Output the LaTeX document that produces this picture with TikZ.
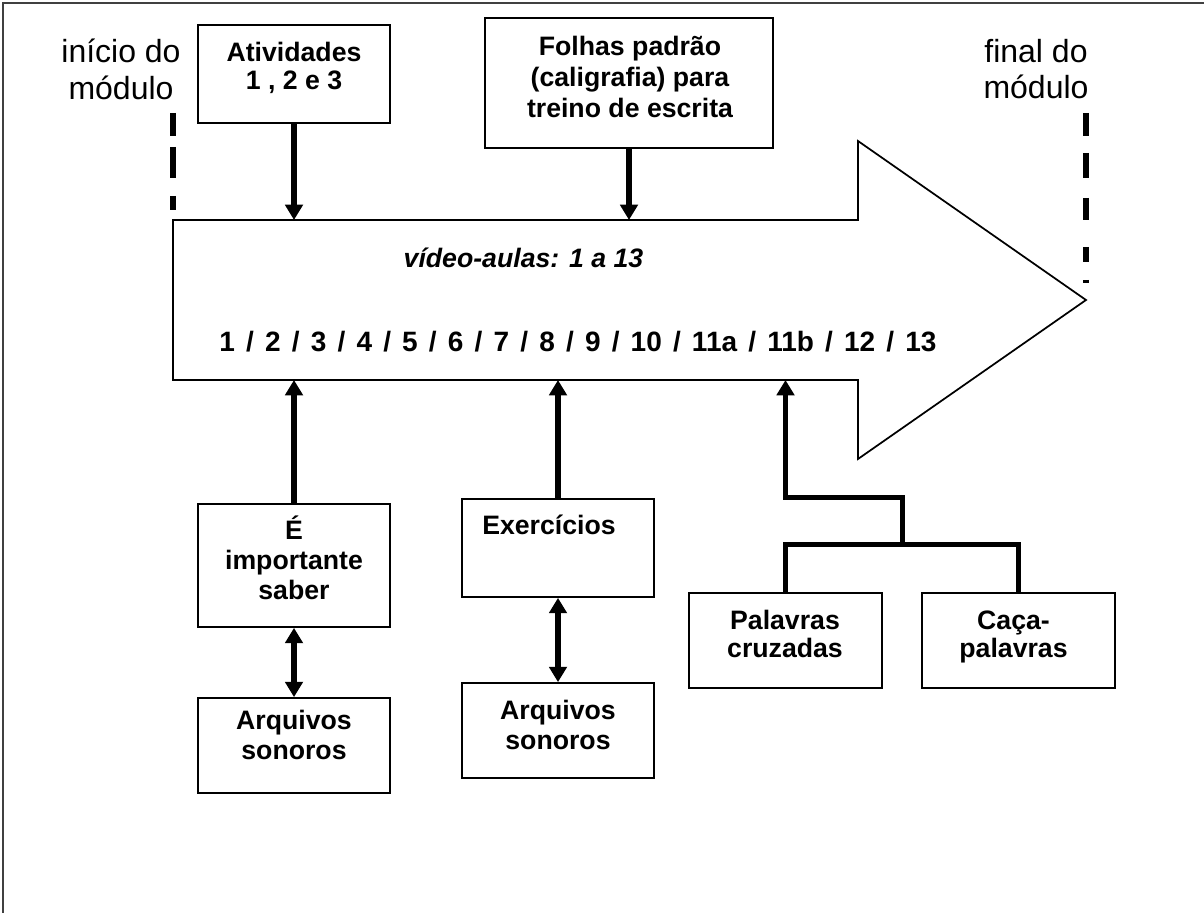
\documentclass[tikz,border=0pt]{standalone}
\usepackage{fontspec}
\setmainfont{Liberation Sans}
\usetikzlibrary{arrows.meta}
\newcommand\mywidespace{\spaceskip=8.38pt\relax}
\begin{document}
\begin{tikzpicture}[x=0.75pt,y=-0.75pt,
  box/.style={draw, line width=1.3pt, inner sep=0pt},
  txt/.style={inner sep=0pt, align=center, font=\bfseries\fontsize{20}{#1}\selectfont},
  side/.style={inner sep=0pt, align=center, font=\fontsize{24}{27.6}\selectfont},
  flow/.style={line width=4pt, -{Triangle[length=11.5pt,width=13pt]}},
  twoway/.style={line width=4pt, {Triangle[length=11.5pt,width=13pt]}-{Triangle[length=11.5pt,width=13pt]}},
  tree/.style={line width=3.75pt, line join=miter},
  limit/.style={line width=4.5pt}
]
\useasboundingbox (0,0) rectangle (1204,913);
% frame
\draw[line width=1.5pt, black!75] (3,913) -- (3,3) -- (1204,3);

% side labels
\node[side] (inicio) at (121,69) {início do\\módulo};
\node[side] (final) at (1036,69) {final do\\módulo};
\draw[limit, dash pattern=on 17.25pt off 8.25pt on 23.25pt off 13.5pt on 10.5pt] (173,113) -- (173,210);
\draw[limit, dash pattern=on 17.25pt off 12.75pt on 18.75pt off 15pt on 16.5pt off 20.25pt on 11.25pt off 13.5pt on 2.25pt] (1086,113) -- (1086,283);

% big arrow
\node[inner sep=0pt, outer sep=0pt, minimum width=513.75pt, minimum height=120pt] (aulas) at (515.5,300) {};
\coordinate (tip) at (1086,300);
\draw[line width=1.3pt, line join=miter] (aulas.north west) -- (aulas.north east) -- (858,141) -- (tip) -- (858,459) -- (aulas.south east) -- (aulas.south west) -- cycle;
\node[inner sep=0pt, font=\bfseries\itshape\fontsize{20}{24}\selectfont] (titulo) at (523.5,258) {vídeo-aulas: 1 a 13};
\node[inner sep=0pt, font=\bfseries\fontsize{21}{25}\selectfont\mywidespace] (nums) at (578,342) {1 / 2 / 3 / 4 / 5 / 6 / 7 / 8 / 9 / 10 / 11a / 11b / 12 / 13};

% top boxes
\node[box, minimum width=144pt, minimum height=73.5pt] (atv) at (294,74) {};
\node[txt=21pt] (atvT) at (294,68) {Atividades\\1 , 2 e 3};
\node[box, minimum width=216pt, minimum height=97.5pt] (fol) at (629,83) {};
\node[txt=23.25pt] (folT) at (630,76.5) {Folhas padrão\\(caligrafia) para\\treino de escrita};
\draw[flow] (atv.south) -- (aulas.north -| atv.south);
\draw[flow] (fol.south) -- (aulas.north -| fol.south);

% bottom left
\node[box, minimum width=144pt, minimum height=92.25pt] (imp) at (294,565.5) {};
\node[txt=22.5pt] (impT) at (294,558) {É\\importante\\saber};
\node[box, minimum width=144pt, minimum height=71.25pt] (arq1) at (294,745.5) {};
\node[txt=22pt] (arq1T) at (294,735) {Arquivos\\sonoros};
\draw[flow] (imp.north) -- (aulas.south -| imp.north);
\draw[twoway] (imp.south) -- (arq1.north);

% bottom middle
\node[box, minimum width=144pt, minimum height=73.5pt] (exe) at (558,548) {};
\node[txt=24pt] (exeT) at (549,525) {Exercícios};
\node[box, minimum width=144pt, minimum height=71.25pt] (arq2) at (558,730.5) {};
\node[txt=22.5pt] (arq2T) at (558,725) {Arquivos\\sonoros};
\draw[flow] (exe.north) -- (aulas.south -| exe.north);
\draw[twoway] (exe.south) -- (arq2.north);

% bottom right
\node[box, minimum width=144.75pt, minimum height=71.25pt] (pal) at (785.5,640.5) {};
\node[txt=21pt] (palT) at (785,634) {Palavras\\cruzadas};
\node[box, minimum width=144.75pt, minimum height=71.25pt] (caca) at (1018.5,640.5) {};
\node[txt=21pt] (cacaT) at (1013.5,637) {Caça-\\palavras};
\coordinate (ja) at (902,497);
\coordinate (jb) at (902,544);
\draw[tree] (pal.north) -- (pal.north |- jb) -- (caca.north |- jb) -- (caca.north);
\draw[tree, -{Triangle[length=11.5pt,width=13pt]}] (jb) -- (ja) -- (ja -| pal.north) -- (aulas.south -| pal.north);
\end{tikzpicture}
\end{document}
